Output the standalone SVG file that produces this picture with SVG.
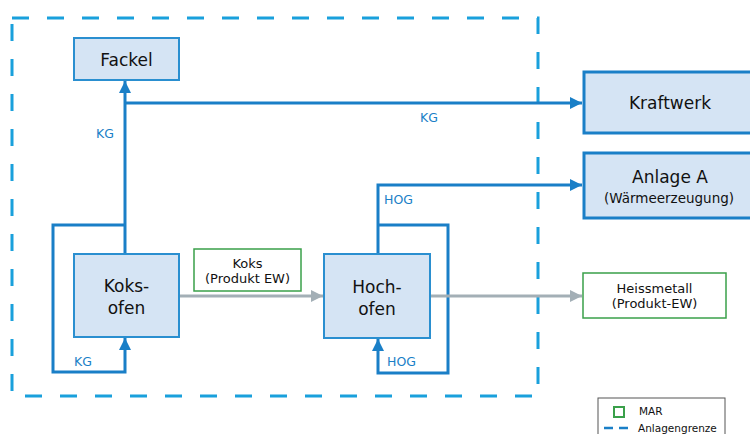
<svg xmlns="http://www.w3.org/2000/svg" width="750" height="434" viewBox="0 0 750 434">
<style>
.box{fill:#d5e4f4;stroke:#2a8fd0;stroke-width:2}
.bbox{fill:#d5e4f4;stroke:#1a7fc7;stroke-width:3}
.mar{fill:#fff;stroke:#3aa04a;stroke-width:1.5}
.t{font-family:"DejaVu Sans","Noto Sans",sans-serif;fill:#111;text-anchor:middle}
.big{font-size:17px}
.sm{font-size:13px}
.lbl{font-family:"DejaVu Sans","Noto Sans",sans-serif;fill:#1a7fc7;font-size:12.5px}
.c{fill:none;stroke:#1a7fc7;stroke-width:3}
.g{fill:none;stroke:#a3afb6;stroke-width:3}
.lg{font-family:"DejaVu Sans","Noto Sans",sans-serif;font-size:10.5px;fill:#111}
</style>
<defs>
<marker id="ab" markerUnits="userSpaceOnUse" markerWidth="12" markerHeight="12" viewBox="0 0 12 12" refX="12" refY="6" orient="auto"><path d="M0,0 L12,6 L0,12 Z" fill="#1a7fc7"/></marker>
<marker id="ag" markerUnits="userSpaceOnUse" markerWidth="12" markerHeight="12" viewBox="0 0 12 12" refX="12" refY="6" orient="auto"><path d="M0,0 L12,6 L0,12 Z" fill="#a3afb6"/></marker>
</defs>
<rect x="12" y="18" width="526" height="378" fill="none" stroke="#19a0dc" stroke-width="3" stroke-dasharray="17 18"/>
<g id="connectors">
<path class="c" d="M125,254 V81" marker-end="url(#ab)"/>
<path class="c" d="M125,103 H582" marker-end="url(#ab)"/>
<path class="c" d="M125,225 H53 V372 H125 V338" marker-end="url(#ab)"/>
<path class="c" d="M378,254 V185 H582" marker-end="url(#ab)"/>
<path class="c" d="M378,225 H448 V373 H378 V339" marker-end="url(#ab)"/>
<path class="g" d="M179,296 H323" marker-end="url(#ag)"/>
<path class="g" d="M430,296 H582" marker-end="url(#ag)"/>
<text class="lbl" x="96" y="138">KG</text>
<text class="lbl" x="420" y="122">KG</text>
<text class="lbl" x="384" y="204">HOG</text>
<text class="lbl" x="74" y="366">KG</text>
<text class="lbl" x="387" y="366">HOG</text>
</g>
<g id="fackel"><rect class="box" x="74" y="38" width="105" height="42"/><text class="t big" x="126.5" y="66">Fackel</text></g>
<g id="koksofen"><rect class="box" x="74" y="254" width="105" height="83"/><text class="t big" x="126.5" y="292">Koks-</text><text class="t big" x="126.5" y="314">ofen</text></g>
<g id="hochofen"><rect class="box" x="324" y="254" width="106" height="84"/><text class="t big" x="377" y="293">Hoch-</text><text class="t big" x="377" y="315">ofen</text></g>
<g id="koks"><rect class="mar" x="194" y="249" width="107" height="42"/><text class="t sm" x="247.5" y="268">Koks</text><text class="t sm" x="247.5" y="283">(Produkt EW)</text></g>
<g id="kraftwerk"><rect class="bbox" x="584" y="72" width="170" height="61"/><text class="t big" x="670" y="109">Kraftwerk</text></g>
<g id="anlagea"><rect class="bbox" x="584" y="153" width="170" height="65"/><text class="t big" x="670" y="183">Anlage A</text><text class="t" font-size="13.5" x="669" y="203">(Wärmeerzeugung)</text></g>
<g id="heissmetall"><rect class="mar" x="583" y="273" width="143" height="45"/><text class="t sm" x="654.5" y="293">Heissmetall</text><text class="t sm" x="654.5" y="308">(Produkt-EW)</text></g>
<g id="legend">
<rect x="598" y="398" width="127" height="40" fill="#fff" stroke="#555" stroke-width="1"/>
<rect x="614" y="407" width="10" height="10" fill="none" stroke="#3aa04a" stroke-width="2"/>
<text class="lg" x="639" y="415">MAR</text>
<path d="M604,428 H634" stroke="#1a7fc7" stroke-width="2.5" stroke-dasharray="9 6"/>
<text class="lg" x="638" y="432">Anlagengrenze</text>
</g>
</svg>
